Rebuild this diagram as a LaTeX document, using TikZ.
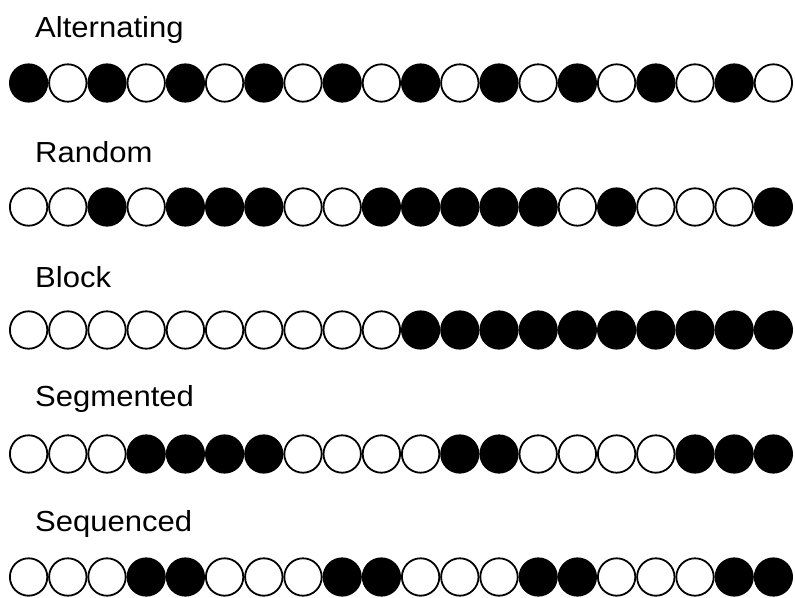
\documentclass[tikz,border=0pt]{standalone}
\usepackage{fontspec}
\setmainfont{Liberation Sans}
\begin{document}
\begin{tikzpicture}[x=1pt,y=-1pt,
  bead/.style={circle, draw=black, line width=1.8pt, minimum size=37.4pt, inner sep=0pt},
  b1/.style={fill=black},
  b0/.style={fill=white},
  lbl/.style={anchor=base west, font=\fontsize{29}{31}\selectfont, inner sep=0pt, xscale=1.07, transform shape}]
\useasboundingbox (0,0) rectangle (795,597);
% labels
\node[lbl] (lalt) at (35,37) {Alternating};
\node[lbl] (lran) at (35,162) {Random};
\node[lbl] (lblk) at (35,287) {Block};
\node[lbl] (lseg) at (35,406) {Segmented};
\node[lbl] (lseq) at (35,531) {Sequenced};
% rows
\foreach \c [count=\i] in {1,0,1,0,1,0,1,0,1,0,1,0,1,0,1,0,1,0,1,0}
  {\node[bead, b\c] (alt\i) at ({28.6+39.2*(\i-1)},83) {};}
\foreach \c [count=\i] in {0,0,1,0,1,1,1,0,0,1,1,1,1,1,0,1,0,0,0,1}
  {\node[bead, b\c] (ran\i) at ({28.6+39.2*(\i-1)},207) {};}
\foreach \c [count=\i] in {0,0,0,0,0,0,0,0,0,0,1,1,1,1,1,1,1,1,1,1}
  {\node[bead, b\c] (blk\i) at ({28.6+39.2*(\i-1)},330) {};}
\foreach \c [count=\i] in {0,0,0,1,1,1,1,0,0,0,0,1,1,0,0,0,0,1,1,1}
  {\node[bead, b\c] (seg\i) at ({28.6+39.2*(\i-1)},454) {};}
\foreach \c [count=\i] in {0,0,0,1,1,0,0,0,1,1,0,0,0,1,1,0,0,0,1,1}
  {\node[bead, b\c] (seq\i) at ({28.6+39.2*(\i-1)},577) {};}
\end{tikzpicture}
\end{document}
